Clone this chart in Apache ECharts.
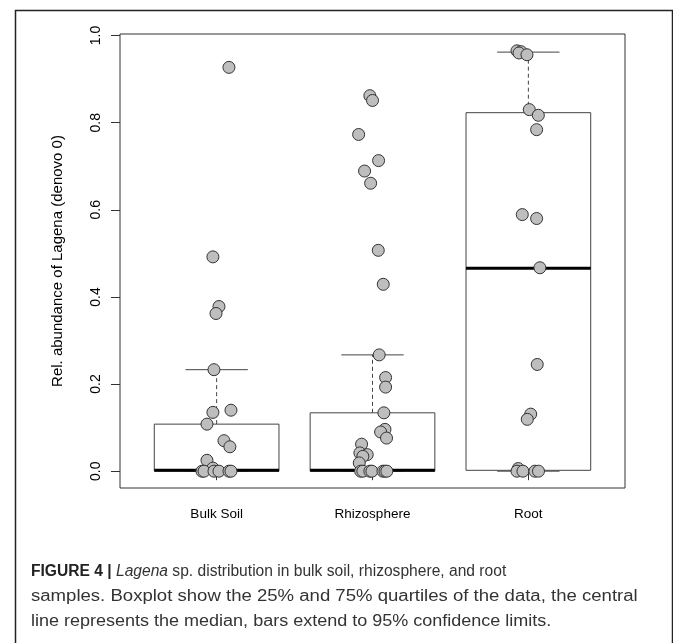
<!DOCTYPE html>
<html>
<head>
<meta charset="utf-8">
<script src="https://cdn.jsdelivr.net/npm/echarts@6/dist/echarts.min.js"></script>
<style>
html,body{margin:0;padding:0;background:#fff;}
#c{width:673px;height:643px;}
</style>
</head>
<body>
<div id="c"></div>
<script>
var categories = ['Bulk Soil', 'Rhizosphere', 'Root'];
var yTicks = [0, 0.2, 0.4, 0.6, 0.8, 1.0];

// box statistics: [q1, median, q3, lower whisker, upper whisker]
var bulkBox = [0, 0.002, 0.108, 0, 0.233];
var rhizoBox = [0, 0.002, 0.134, 0, 0.267];
var rootBox = [0.002, 0.466, 0.823, 0, 0.962];

var bulkValues = [0.927, 0.492, 0.378, 0.362, 0.233, 0.140, 0.135, 0.108, 0.070, 0.056, 0.025, 0.007, 0, 0, 0, 0, 0, 0];
var bulkJitter = [0.079, -0.024, 0.015, -0.004, -0.017, 0.092, -0.024, -0.062, 0.047, 0.085, -0.062, -0.024, -0.094, -0.081, -0.017, 0.015, 0.079, 0.092];

var rhizoValues = [0.862, 0.851, 0.773, 0.713, 0.689, 0.661, 0.507, 0.429, 0.267, 0.215, 0.193, 0.134, 0.096, 0.090, 0.076, 0.062, 0.042, 0.038, 0.034, 0.019, 0, 0, 0, 0, 0, 0, 0];
var rhizoJitter = [-0.017, 0.0, -0.089, 0.039, -0.051, -0.012, 0.037, 0.069, 0.043, 0.084, 0.084, 0.073, 0.080, 0.052, 0.090, -0.070, -0.081, -0.034, -0.062, -0.085, -0.076, -0.062, -0.017, -0.004, 0.067, 0.080, 0.092];

var rootValues = [0.965, 0.963, 0.960, 0.956, 0.830, 0.817, 0.784, 0.589, 0.580, 0.467, 0.245, 0.131, 0.119, 0.006, 0, 0, 0, 0];
var rootJitter = [-0.073, -0.047, -0.060, -0.009, 0.006, 0.064, 0.053, -0.039, 0.053, 0.074, 0.057, 0.015, -0.007, -0.065, -0.073, -0.035, 0.042, 0.065];

var captionLines = [
  '{b|FIGURE 4 |} {i|Lagena} sp. distribution in bulk soil, rhizosphere, and root',
  'samples. Boxplot show the 25% and 75% quartiles of the data, the central',
  'line represents the median, bars extend to 95% confidence limits.'
];

var boxes = [bulkBox, rhizoBox, rootBox];
var groupValues = [bulkValues, rhizoValues, rootValues];
var groupJitter = [bulkJitter, rhizoJitter, rootJitter];

var boxData = boxes.map(function (b, i) { return [i + 1].concat(b); });
var pointData = [];
groupValues.forEach(function (vals, i) {
  vals.forEach(function (v, j) { pointData.push([i + 1 + groupJitter[i][j], v]); });
});

var chart = echarts.init(document.getElementById('c'), null, {renderer: 'canvas'});

function renderBox(params, api) {
  var x = api.value(0), q1 = api.value(1), med = api.value(2), q3 = api.value(3), lo = api.value(4), hi = api.value(5);
  var halfBox = 0.4, halfCap = 0.2;
  var pTL = api.coord([x - halfBox, q3]);
  var pBR = api.coord([x + halfBox, q1]);
  var cx = api.coord([x, 0])[0];
  var capL = api.coord([x - halfCap, 0])[0];
  var capR = api.coord([x + halfCap, 0])[0];
  var yHi = api.coord([x, hi])[1], yLo = api.coord([x, lo])[1];
  var yQ3 = pTL[1], yQ1 = pBR[1];
  var yMed = api.coord([x, med])[1];
  var stroke = '#444';
  return {
    type: 'group',
    children: [
      {type: 'line', shape: {x1: cx, y1: yQ3, x2: cx, y2: yHi}, style: {stroke: stroke, lineWidth: 1, lineDash: [4, 3]}},
      {type: 'line', shape: {x1: cx, y1: yQ1, x2: cx, y2: yLo}, style: {stroke: stroke, lineWidth: 1, lineDash: [4, 3]}},
      {type: 'line', shape: {x1: capL, y1: yHi, x2: capR, y2: yHi}, style: {stroke: stroke, lineWidth: 1}},
      {type: 'line', shape: {x1: capL, y1: yLo, x2: capR, y2: yLo}, style: {stroke: stroke, lineWidth: 1}},
      {type: 'rect', shape: {x: pTL[0], y: yQ3, width: pBR[0] - pTL[0], height: yQ1 - yQ3}, style: {fill: '#fff', stroke: stroke, lineWidth: 1}},
      {type: 'line', shape: {x1: pTL[0], y1: yMed, x2: pBR[0], y2: yMed}, style: {stroke: '#000', lineWidth: 3}}
    ]
  };
}

var axisFont = '"Liberation Sans", Arial, sans-serif';
var capFont = '"Liberation Sans", Arial, sans-serif';
var capSize = 16;
var capRich = {
  b: {fontWeight: 'bold', fontSize: capSize, fontFamily: capFont, fill: '#222'},
  i: {fontStyle: 'italic', fontSize: capSize, fontFamily: capFont, fill: '#333'}
};
// horizontal stretch of each caption line to match the original typeface widths
var capScale = [0.975, 1.16, 1.125];
var capTop = [564, 589, 614];

chart.setOption({
  animation: false,
  backgroundColor: '#fff',
  grid: {left: 120, top: 34, right: 48, bottom: 155, show: true, borderColor: '#333', borderWidth: 1, backgroundColor: 'transparent'},
  xAxis: {
    type: 'value', min: 0.38, max: 3.62,
    splitLine: {show: false},
    axisLine: {show: false},
    axisTick: {show: true, customValues: [1, 2, 3], length: 9, lineStyle: {color: '#333'}},
    axisLabel: {customValues: [1, 2, 3], margin: 19, color: '#000', fontSize: 13.5, fontFamily: axisFont,
      formatter: function (v) { return categories[Math.round(v) - 1] || ''; }}
  },
  yAxis: {
    type: 'value', min: -0.0386, max: 1.0036,
    name: 'Rel. abundance of Lagena (denovo 0)', nameLocation: 'middle', nameGap: 55,
    nameTextStyle: {color: '#000', fontSize: 15, fontFamily: axisFont},
    splitLine: {show: false},
    axisLine: {show: false},
    axisTick: {show: true, customValues: yTicks, length: 9, lineStyle: {color: '#333'}},
    axisLabel: {customValues: yTicks, rotate: 90, margin: 17, color: '#000', fontSize: 14, fontFamily: axisFont,
      formatter: function (v) { return v.toFixed(1); }}
  },
  series: [
    {type: 'custom', renderItem: renderBox, data: boxData, z: 2, silent: true,
      encode: {x: 0, y: [1, 2, 3, 4, 5]}},
    {type: 'scatter', data: pointData, symbol: 'circle', symbolSize: 12, z: 3, silent: true,
      itemStyle: {color: '#bebebe', borderColor: '#333', borderWidth: 1, opacity: 1}}
  ],
  graphic: [
    {type: 'rect', left: 13, top: 8, shape: {x: 0, y: 0, width: 657, height: 700}, style: {fill: 'none', stroke: '#222', lineWidth: 1.5}, silent: true, z: 10}
  ].concat(captionLines.map(function (t, k) {
    return {type: 'text', x: 31, y: capTop[k], scaleX: capScale[k], scaleY: 1, silent: true,
      style: {text: t, fill: '#333', font: capSize + 'px ' + capFont, rich: capRich}};
  }))
});
</script>
</body>
</html>
